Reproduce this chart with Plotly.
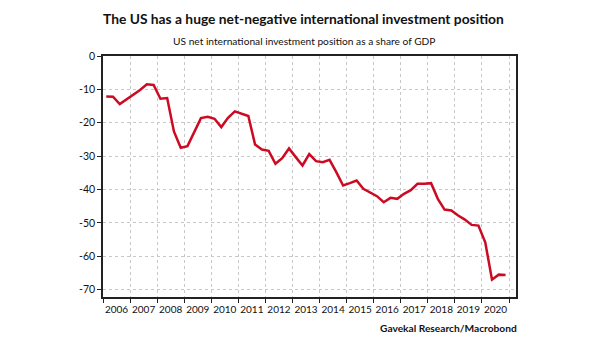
import pandas as pd
import plotly.graph_objects as go

quarters = pd.period_range("2006Q1", "2020Q4", freq="Q")
x_dates = [(p.start_time + (p.end_time - p.start_time) / 2).strftime("%Y-%m-%d") for p in quarters]

niip_share_gdp = [
    -12.1, -12.2, -14.4, -13.0, -11.8, -10.2, -8.5, -8.7,
    -12.8, -12.6, -22.6, -27.5, -27.0, -22.8, -18.6, -18.2,
    -18.8, -21.3, -18.5, -16.6, -17.3, -18.0, -26.5, -28.0,
    -28.4, -32.3, -30.6, -27.7, -30.3, -32.8, -29.4, -31.5,
    -31.8, -31.1, -34.8, -38.8, -38.1, -37.3, -39.8, -40.8,
    -42.0, -43.8, -42.5, -42.8, -41.3, -40.2, -38.3, -38.3,
    -38.1, -42.8, -46.0, -46.3, -47.8, -49.0, -50.6, -50.8,
    -55.8, -67.0, -65.5, -65.6,
]

y_ticks = [0, -10, -20, -30, -40, -50, -60, -70]
y_tick_text = ["0", "-10", "-20", "-30", "-40", "-50", "-60", "-70"]

title_text = "The US has a huge net-negative international investment position"
subtitle_text = "US net international investment position as a share of GDP"
source_text = "Gavekal Research/Macrobond"

FONT = "Lato, sans-serif"

fig = go.Figure()
fig.add_trace(go.Scatter(
    x=x_dates, y=niip_share_gdp, mode="lines",
    line=dict(color="#cc0a23", width=2.5),
    hoverinfo="skip", showlegend=False,
))

fig.update_layout(
    width=605, height=341,
    margin=dict(l=103, r=89, t=56, b=44),
    paper_bgcolor="white", plot_bgcolor="white",
    font=dict(family=FONT, size=10, color="#111"),
    showlegend=False,
)

fig.update_xaxes(
    type="date",
    range=["2006-01-01", "2021-04-05"],
    tick0="2006-01-01", dtick="M12", tickformat="%Y",
    ticklabelmode="period", tickangle=0, ticklabelstandoff=-2,
    ticks="outside", ticklen=4, tickcolor="#222", tickwidth=1,
    showline=True, linecolor="#222", linewidth=1.5, mirror=True,
    showgrid=True, gridcolor="#c8c8c8", griddash="dot", gridwidth=1,
    tickfont=dict(family=FONT, size=10, color="#111"),
    zeroline=False,
)
fig.update_yaxes(
    range=[-72.2, 0],
    tickvals=y_ticks, ticktext=y_tick_text,
    ticks="outside", ticklen=4, tickcolor="#222", tickwidth=1,
    showline=True, linecolor="#222", linewidth=1.5, mirror=True,
    showgrid=True, gridcolor="#c8c8c8", griddash="dot", gridwidth=1,
    tickfont=dict(family=FONT, size=10.5, color="#111"),
    zeroline=False,
)

fig.add_annotation(text="<b>" + title_text + "</b>", xref="paper", yref="paper",
                   x=0.485, y=1, yshift=38, xanchor="center", yanchor="middle",
                   showarrow=False, font=dict(family=FONT, size=13.8, color="#111"))
fig.add_annotation(text=subtitle_text, xref="paper", yref="paper",
                   x=0.487, y=1, yshift=15, xanchor="center", yanchor="middle",
                   showarrow=False, font=dict(family=FONT, size=10.2, color="#111"))
fig.add_annotation(text="<b>" + source_text + "</b>", xref="paper", yref="paper",
                   x=1.007, y=0, yshift=-31, xanchor="right", yanchor="middle",
                   showarrow=False, font=dict(family=FONT, size=10.2, color="#111"))

fig.write_html("out.html")
